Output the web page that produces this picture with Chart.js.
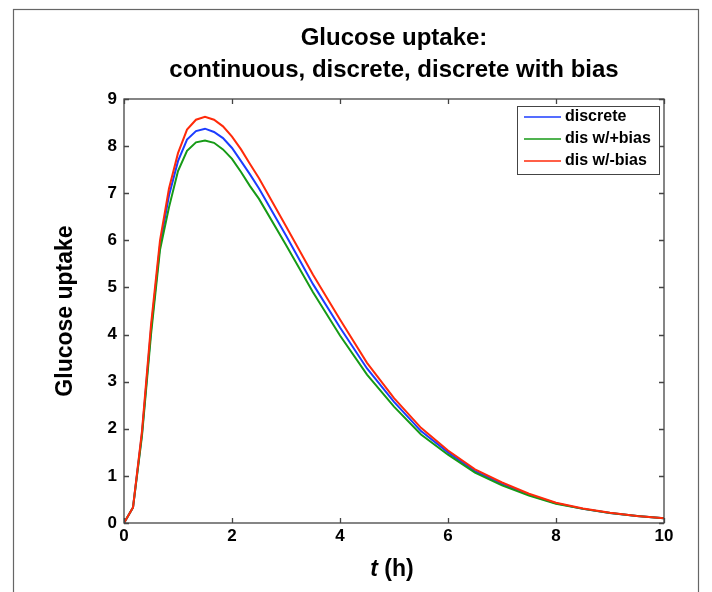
<!DOCTYPE html>
<html>
<head>
<meta charset="utf-8">
<script src="https://cdn.jsdelivr.net/npm/chart.js@4.4.1/dist/chart.umd.min.js"></script>
<style>
  html, body { margin: 0; padding: 0; background: #fff; }
  #wrap { width: 712px; height: 592px; }
</style>
</head>
<body>
<div id="wrap"><canvas id="uptake" width="712" height="592"></canvas></div>
<script>
// time points (h)
var hours = [0, 0.167, 0.333, 0.5, 0.667, 0.833, 1, 1.167, 1.333, 1.5, 1.667, 1.833, 2, 2.167, 2.333, 2.5,
  3, 3.5, 4, 4.5, 5, 5.5, 6, 6.5, 7, 7.5, 8, 8.5, 9, 9.5, 10];

var discrete = [0, 0.33, 1.9, 4.1, 5.9, 6.95, 7.68, 8.14, 8.32, 8.37, 8.3, 8.17, 7.96, 7.68, 7.4, 7.1,
  6.1, 5.07, 4.15, 3.28, 2.57, 1.95, 1.5, 1.1, 0.83, 0.6, 0.42, 0.3, 0.21, 0.15, 0.1];
var plusBias = [0, 0.33, 1.85, 4.0, 5.8, 6.7, 7.47, 7.9, 8.08, 8.12, 8.07, 7.93, 7.73, 7.45, 7.15, 6.88,
  5.9, 4.9, 3.98, 3.15, 2.47, 1.88, 1.45, 1.07, 0.8, 0.58, 0.41, 0.3, 0.21, 0.15, 0.1];
var minusBias = [0, 0.33, 1.95, 4.2, 6.0, 7.1, 7.85, 8.35, 8.56, 8.62, 8.56, 8.42, 8.2, 7.93, 7.62, 7.32,
  6.3, 5.27, 4.32, 3.4, 2.65, 2.02, 1.54, 1.14, 0.86, 0.62, 0.43, 0.31, 0.22, 0.15, 0.1];

var seriesNames = ["discrete", "dis w/+bias", "dis w/-bias"];
var seriesColors = ["#1c3cff", "#169a16", "#ff2a0a"];
var xTicks = [0, 2, 4, 6, 8, 10];
var yTicks = [0, 1, 2, 3, 4, 5, 6, 7, 8, 9];

var titleLines = ["Glucose uptake:", "continuous, discrete, discrete with bias"];
var yTitle = "Glucose uptake";

function pts(vals) {
  return hours.map(function (h, i) { return { x: h, y: vals[i] }; });
}

var font = "'Liberation Sans', Arial, Helvetica, sans-serif";

// frame, box with inward ticks, title, x title and legend
var decorations = {
  id: "decorations",
  afterDraw: function (chart) {
    var ctx = chart.ctx;
    var a = chart.chartArea;
    var xs = chart.scales.x, ys = chart.scales.y;
    var cx = (a.left + a.right) / 2;
    ctx.save();

    // outer frame
    ctx.strokeStyle = "#666";
    ctx.lineWidth = 1.2;
    ctx.strokeRect(13.5, 9.5, 685, 600);

    // plot box
    ctx.strokeStyle = "#444";
    ctx.lineWidth = 1.3;
    ctx.strokeRect(a.left, a.top, a.right - a.left, a.bottom - a.top);

    ctx.beginPath();
    xTicks.forEach(function (v) {
      var px = Math.round(xs.getPixelForValue(v)) + 0.5;
      ctx.moveTo(px, a.bottom); ctx.lineTo(px, a.bottom - 5);
      ctx.moveTo(px, a.top); ctx.lineTo(px, a.top + 5);
    });
    yTicks.forEach(function (v) {
      var py = Math.round(ys.getPixelForValue(v)) + 0.5;
      ctx.moveTo(a.left, py); ctx.lineTo(a.left + 5, py);
      ctx.moveTo(a.right, py); ctx.lineTo(a.right - 5, py);
    });
    ctx.stroke();

    // title
    ctx.fillStyle = "#000";
    ctx.textAlign = "center";
    ctx.textBaseline = "middle";
    ctx.font = "bold 24px " + font;
    ctx.fillText(titleLines[0], cx, 38);
    ctx.fillText(titleLines[1], cx, 70);

    // x axis title: italic t + (h)
    var tPart = "t", hPart = " (h)";
    ctx.font = "italic bold 23px " + font;
    var w1 = ctx.measureText(tPart).width;
    ctx.font = "bold 23px " + font;
    var w2 = ctx.measureText(hPart).width;
    var sx = cx - (w1 + w2) / 2 - 2;
    ctx.textAlign = "left";
    ctx.font = "italic bold 23px " + font;
    ctx.fillText(tPart, sx, 570);
    ctx.font = "bold 23px " + font;
    ctx.fillText(hPart, sx + w1, 570);

    // legend
    var lx = 517, ly = 106, lw = 142, lh = 68;
    ctx.fillStyle = "#fff";
    ctx.fillRect(lx, ly, lw, lh);
    ctx.strokeStyle = "#444";
    ctx.lineWidth = 1;
    ctx.strokeRect(lx + 0.5, ly + 0.5, lw, lh);
    ctx.font = "bold 16px " + font;
    ctx.textBaseline = "middle";
    seriesNames.forEach(function (name, i) {
      var y = 117 + i * 22;
      ctx.strokeStyle = seriesColors[i];
      ctx.lineWidth = 1.5;
      ctx.beginPath();
      ctx.moveTo(524, y); ctx.lineTo(561, y);
      ctx.stroke();
      ctx.fillStyle = "#000";
      ctx.fillText(name, 565, y);
    });

    ctx.restore();
  }
};

var uptakeData = {
  datasets: [
    { label: seriesNames[0], data: pts(discrete), borderColor: seriesColors[0], order: 2 },
    { label: seriesNames[1], data: pts(plusBias), borderColor: seriesColors[1], order: 1 },
    { label: seriesNames[2], data: pts(minusBias), borderColor: seriesColors[2], order: 0 },
  ],
};

var uptakeOptions = {
  responsive: false,
  animation: false,
  layout: { padding: { top: 99, right: 48, left: 40, bottom: 0 } },
  elements: {
    line: { tension: 0, borderWidth: 2, fill: false },
    point: { radius: 0 },
  },
  plugins: {
    legend: { display: false },
    title: { display: false },
    tooltip: { enabled: false },
  },
  scales: {
    x: {
      type: "linear",
      min: 0,
      max: 10,
      afterFit: function (s) { s.height = 69; },
      afterBuildTicks: function (s) { s.ticks = xTicks.map(function (v) { return { value: v }; }); },
      grid: { display: false, drawTicks: false },
      border: { display: false },
      ticks: { padding: 3, color: "#000", font: { family: font, size: 17, weight: "bold" } },
    },
    y: {
      min: 0,
      max: 9,
      afterFit: function (s) { s.width = 84; },
      afterBuildTicks: function (s) { s.ticks = yTicks.map(function (v) { return { value: v }; }); },
      grid: { display: false, drawTicks: false },
      border: { display: false },
      ticks: { padding: 7, color: "#000", font: { family: font, size: 17, weight: "bold" } },
      title: {
        display: true,
        text: yTitle,
        color: "#000",
        padding: { top: 12, bottom: 0 },
        font: { family: font, size: 23, weight: "bold" },
      },
    },
  },
};

var uptakeChart = new Chart(document.getElementById("uptake"), {
  type: "line",
  data: uptakeData,
  options: uptakeOptions,
  plugins: [decorations],
});
</script>
</body>
</html>
